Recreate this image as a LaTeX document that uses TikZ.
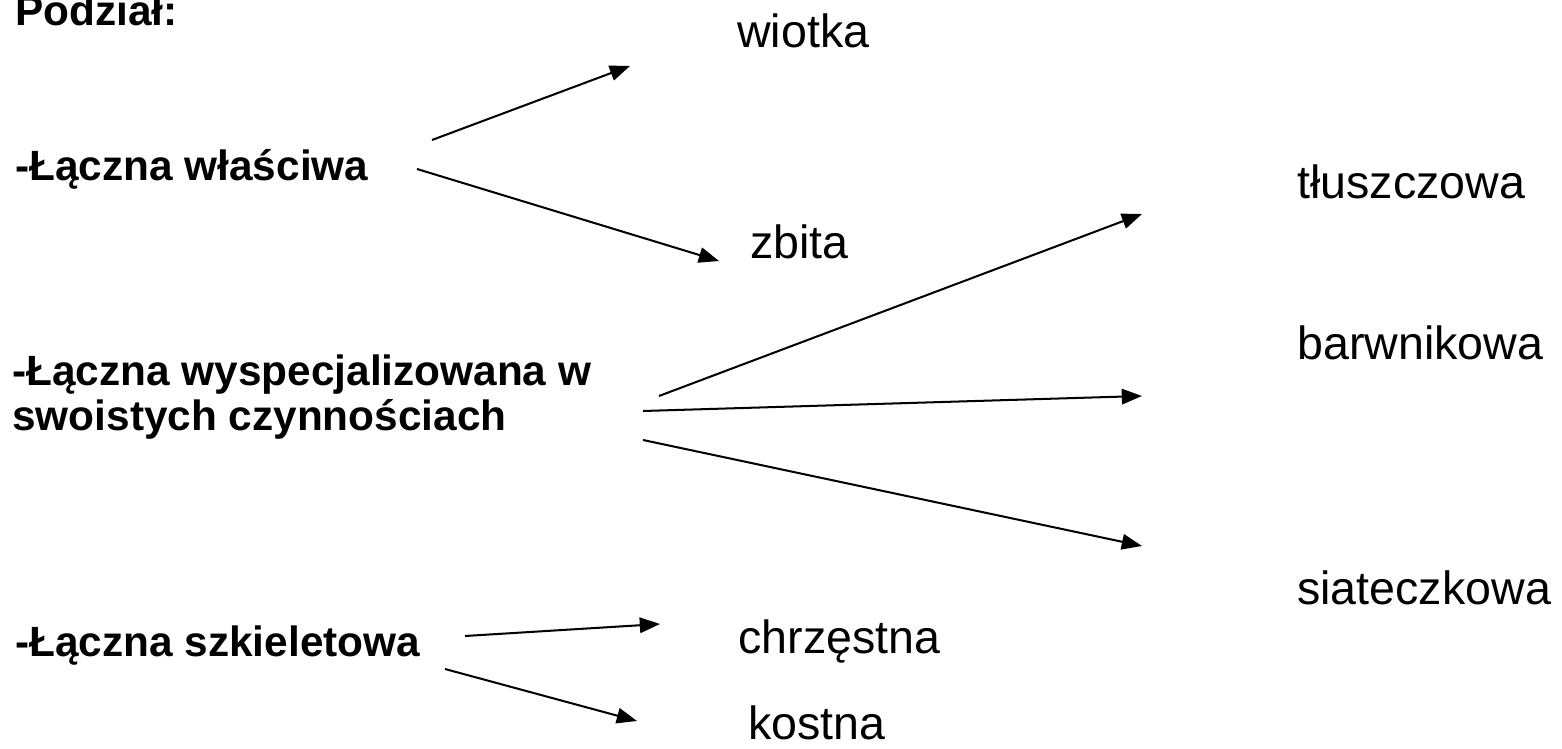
\documentclass[tikz,border=0pt]{standalone}
\usepackage{fontspec}
\setmainfont{Liberation Sans}
\usetikzlibrary{arrows.meta}
\begin{document}
\begin{tikzpicture}[x=0.02cm,y=-0.02cm,
  lbl/.style={anchor=base west, inner sep=0pt, font=\fontsize{26.5}{31}\selectfont},
  blbl/.style={anchor=base west, inner sep=0pt, font=\fontsize{24.1}{24.6}\selectfont\bfseries},
  arr/.style={-{Triangle[length=11.5pt,width=8.8pt]}, line width=1.15pt}]
\useasboundingbox[fill=white] (0,0) rectangle (1562,749);
% left labels
\node[blbl] (podzial) at (15,26) {Podział:};
\node[blbl] (wlasc) at (15,181) {-Łączna właściwa};
\node[blbl] (wysp) at (12,386) {\begin{tabular}[t]{@{}l@{}}-Łączna wyspecjalizowana w\\swoistych czynnościach\end{tabular}};
\node[blbl] (szkiel) at (15,656) {-Łączna szkieletowa};
% right labels
\node[lbl] (wiotka) at (737,48) {wiotka};
\node[lbl] (zbita) at (750,259) {zbita};
\node[lbl] (tlusz) at (1297,199) {tłuszczowa};
\node[lbl] (barw) at (1297,360) {barwnikowa};
\node[lbl] (siat) at (1297,604) {siateczkowa};
\node[lbl] (chrz) at (738,653) {chrzęstna};
\node[lbl] (kost) at (748,739) {kostna};
% arrow end points
\coordinate (a1s) at (432,140); \coordinate (a1e) at (630,66);
\coordinate (a2s) at (417,169); \coordinate (a2e) at (719,261);
\coordinate (a3s) at (659,396); \coordinate (a3e) at (1142,214);
\coordinate (a4s) at (643,411); \coordinate (a4e) at (1142,396);
\coordinate (a5s) at (643,440); \coordinate (a5e) at (1142,546);
\coordinate (a6s) at (465,636); \coordinate (a6e) at (660,624);
\coordinate (a7s) at (445,669); \coordinate (a7e) at (637,721);
\draw[arr] (a1s) -- (a1e);
\draw[arr] (a2s) -- (a2e);
\draw[arr] (a3s) -- (a3e);
\draw[arr] (a4s) -- (a4e);
\draw[arr] (a5s) -- (a5e);
\draw[arr] (a6s) -- (a6e);
\draw[arr] (a7s) -- (a7e);
\end{tikzpicture}
\end{document}
